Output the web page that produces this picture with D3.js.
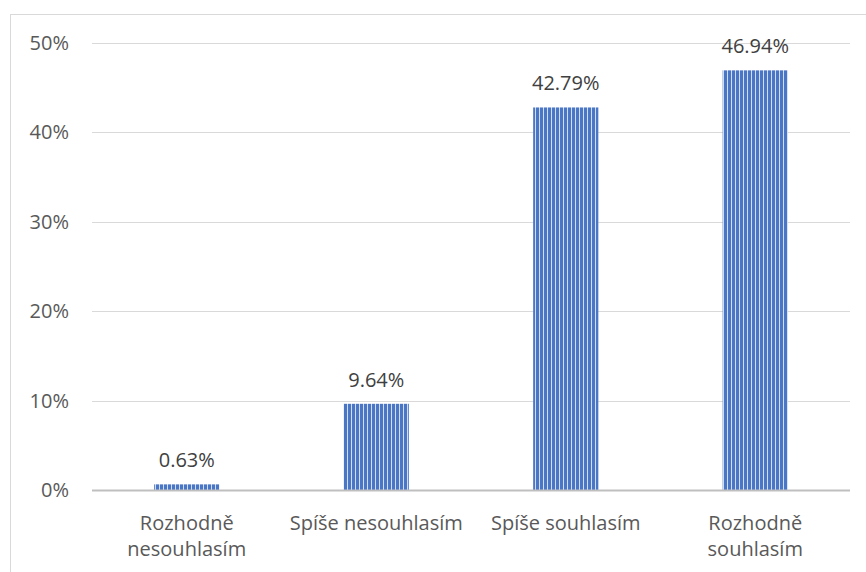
<!DOCTYPE html>
<html><head><meta charset="utf-8">
<script src="https://cdn.jsdelivr.net/npm/d3@7"></script>
<style>body{margin:0;background:#fff}svg{display:block}</style>
</head><body>
<svg id="c" width="866" height="572"></svg>
<script>
const categories = ["Rozhodně\nnesouhlasím", "Spíše nesouhlasím", "Spíše souhlasím", "Rozhodně\nsouhlasím"];
const values = [0.63, 9.64, 42.79, 46.94];
const valueLabels = ["0.63%", "9.64%", "42.79%", "46.94%"];
const yTicks = [0, 10, 20, 30, 40, 50];
const yTickLabels = ["0%", "10%", "20%", "30%", "40%", "50%"];

const svg = d3.select("#c");
const font = "'Open Sans', sans-serif";
const fs = 20;
const plotLeft = 92, plotRight = 850, plotTop = 43, plotBottom = 490;

svg.append("rect").attr("x", 10.5).attr("y", 14.5).attr("width", 1000).attr("height", 1000)
  .attr("fill", "#fff").attr("stroke", "#D9D9D9").attr("stroke-width", 1);

const defs = svg.append("defs");
const pat = defs.append("pattern").attr("id", "stripes").attr("patternUnits", "userSpaceOnUse")
  .attr("width", 4).attr("height", 4);
pat.append("rect").attr("width", 4).attr("height", 4).attr("fill", "#D3DDF1");
pat.append("rect").attr("width", 3).attr("height", 4).attr("fill", "#4A76C6");

const x = d3.scaleBand().domain(categories).range([plotLeft, plotRight]).paddingInner(0.656).paddingOuter(0.328);
const y = d3.scaleLinear().domain([0, 50]).range([plotBottom, plotTop]);

svg.append("g").selectAll("line").data(yTicks.filter(d => d > 0)).join("line")
  .attr("x1", plotLeft).attr("x2", plotRight)
  .attr("y1", d => Math.round(y(d)) + 0.5).attr("y2", d => Math.round(y(d)) + 0.5)
  .attr("stroke", "#D9D9D9").attr("stroke-width", 1);

svg.append("g").selectAll("text").data(yTicks).join("text")
  .attr("x", 69).attr("y", d => y(d)).attr("dy", "0.35em").attr("text-anchor", "end")
  .attr("font-family", font).attr("font-size", fs).attr("fill", "#595959")
  .text((d, i) => yTickLabels[i]);

svg.append("g").selectAll("rect").data(values).join("rect")
  .attr("x", (d, i) => x(categories[i])).attr("width", x.bandwidth())
  .attr("y", d => y(d)).attr("height", d => plotBottom - y(d))
  .attr("fill", "url(#stripes)");

svg.append("line").attr("x1", plotLeft).attr("x2", plotRight).attr("y1", plotBottom + 0.5).attr("y2", plotBottom + 0.5)
  .attr("stroke", "#BFBFBF").attr("stroke-width", 2);

svg.append("g").selectAll("text").data(values).join("text")
  .attr("x", (d, i) => x(categories[i]) + x.bandwidth() / 2).attr("y", d => y(d) - 17)
  .attr("text-anchor", "middle").attr("font-family", font).attr("font-size", fs).attr("fill", "#404040")
  .text((d, i) => valueLabels[i]);

const xl = svg.append("g").selectAll("text").data(categories).join("text")
  .attr("x", d => x(d) + x.bandwidth() / 2).attr("y", 530)
  .attr("text-anchor", "middle").attr("font-family", font).attr("font-size", fs).attr("fill", "#595959");
xl.each(function(d) {
  const t = d3.select(this);
  d.split("\n").forEach((line, i) => {
    t.append("tspan").attr("x", t.attr("x")).attr("dy", i === 0 ? 0 : 26).text(line);
  });
});
</script>
</body></html>
